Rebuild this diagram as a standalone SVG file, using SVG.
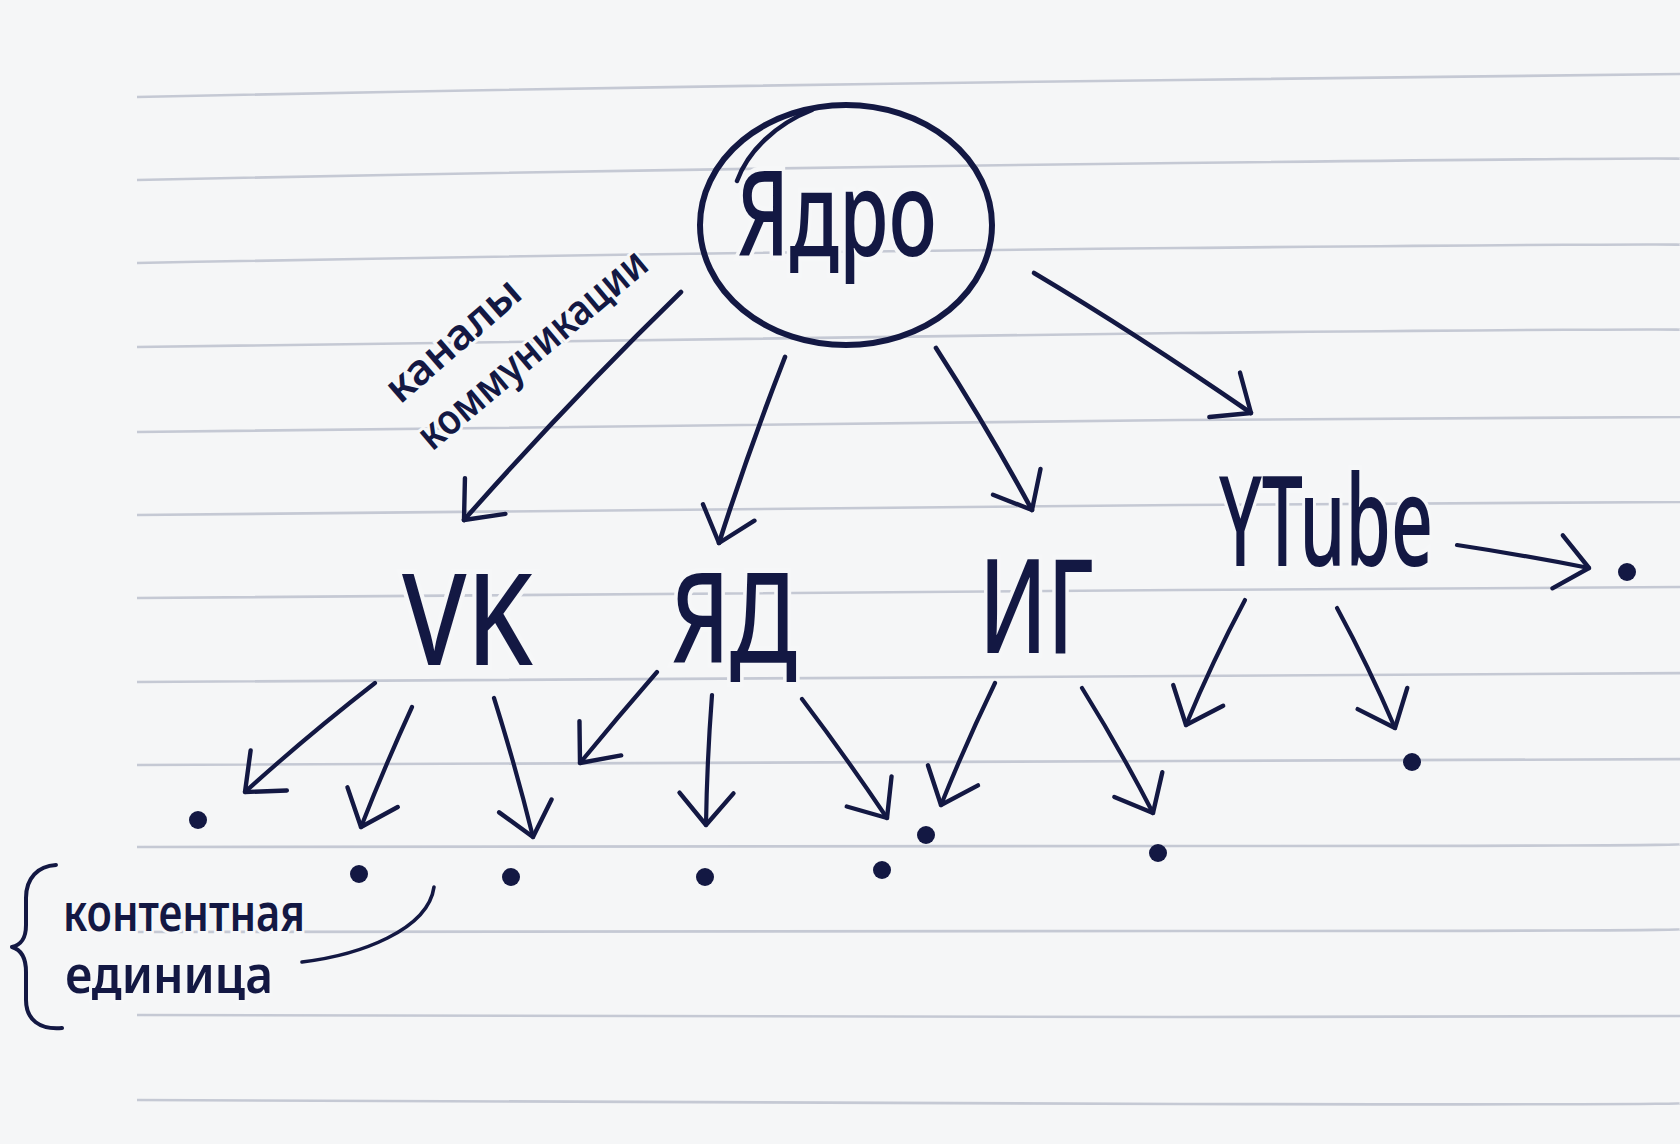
<svg xmlns="http://www.w3.org/2000/svg" width="1680" height="1144" viewBox="0 0 1680 1144">
  <defs>
    <style>
      .rule { fill: none; stroke: #c5c9d4; stroke-width: 2.6; }
      .ink { fill: none; stroke: #131843; stroke-linecap: round; stroke-linejoin: round; }
      .edge { fill: none; stroke: #131843; stroke-width: 4.2; stroke-linecap: round; marker-end: url(#ah); }
      .edge-main { stroke-width: 4.6; }
      .big { font-family: "Noto Sans", "Open Sans", "DejaVu Sans", sans-serif; font-weight: 500; fill: #131843; stroke: #f6f7f8; stroke-width: 10; paint-order: stroke; }
      .small { font-family: "Noto Sans", "Open Sans", "DejaVu Sans", sans-serif; font-weight: 600; fill: #131843; stroke: #f6f7f8; stroke-width: 6; paint-order: stroke; }
      .dot { fill: #131843; }
    </style>
    <marker id="ah" markerUnits="userSpaceOnUse" orient="auto" refX="0" refY="0" markerWidth="60" markerHeight="70" viewBox="-44 -35 50 70" overflow="visible">
      <path d="M -32,-27 L 0,0 L -32,27" fill="none" stroke="#131843" stroke-width="4.4" stroke-linecap="round" stroke-linejoin="round"/>
    </marker>
  </defs>

  <rect width="1680" height="1144" fill="#f5f6f7"/>

  <g id="paper-rules">
    <path class="rule" d="M137,97 Q660,86 1180,80 T1680,74"/>
    <path class="rule" d="M137,180 Q660,169 1180,163 T1680,159"/>
    <path class="rule" d="M137,263 Q660,253 1180,248 T1680,245"/>
    <path class="rule" d="M137,347 Q660,338 1180,333 T1680,330"/>
    <path class="rule" d="M137,432 Q660,424 1180,420 T1680,417"/>
    <path class="rule" d="M137,515 Q660,509 1180,505 T1680,502"/>
    <path class="rule" d="M137,598 Q660,593 1180,590 T1680,587"/>
    <path class="rule" d="M137,682 Q660,678 1180,676 T1680,673"/>
    <path class="rule" d="M137,765 Q660,762 1180,761 T1680,759"/>
    <path class="rule" d="M137,847 Q660,846 1180,846 T1680,844"/>
    <path class="rule" d="M137,932 Q660,931 1180,931 T1680,929"/>
    <path class="rule" d="M137,1015 Q660,1017 1180,1017 T1680,1016"/>
    <path class="rule" d="M137,1100 Q660,1103 1180,1104 T1680,1103"/>
  </g>

  <g id="connectors">
    <path class="edge edge-main" d="M681,292 Q570,400 464,520"/>
    <path class="edge edge-main" d="M785,357 Q748,452 719,543"/>
    <path class="edge edge-main" d="M936,348 Q987,427 1032,510"/>
    <path class="edge edge-main" d="M1034,273 Q1135,333 1251,413"/>

    <path class="edge" d="M375,683 Q308,735 245,792"/>
    <path class="edge" d="M412,707 Q384,768 361,827"/>
    <path class="edge" d="M494,698 Q516,768 533,837"/>

    <path class="edge" d="M657,672 Q617,718 580,763"/>
    <path class="edge" d="M712,695 Q707,760 706,825"/>
    <path class="edge" d="M802,699 Q846,757 887,818"/>

    <path class="edge" d="M995,683 Q966,743 941,805"/>
    <path class="edge" d="M1082,688 Q1120,749 1153,813"/>

    <path class="edge" d="M1245,600 Q1212,662 1186,725"/>
    <path class="edge" d="M1337,608 Q1369,667 1395,728"/>
    <path class="edge" d="M1457,545 Q1523,555 1589,568"/>

    <path class="ink" stroke-width="3.6" d="M302,962 C360,955 428,930 434,887"/>
  </g>

  <g id="node-core">
    <ellipse class="ink" stroke-width="6" cx="846" cy="225" rx="146" ry="120"/>
    <path class="ink" stroke-width="4.5" d="M737,181 C748,151 776,124 812,110"/>
    <text class="big" font-size="118" x="737" y="256" textLength="200" lengthAdjust="spacingAndGlyphs">Ядро</text>
  </g>

  <g id="label-channels">
    <text class="small" font-size="42" transform="translate(400,405) rotate(-41)" textLength="165" lengthAdjust="spacingAndGlyphs">каналы</text>
    <text class="small" font-size="42" transform="translate(432,452) rotate(-40)" textLength="286" lengthAdjust="spacingAndGlyphs">коммуникации</text>
  </g>

  <g id="node-vk">
    <text class="big" font-size="128" x="402" y="665" textLength="131" lengthAdjust="spacingAndGlyphs">VK</text>
  </g>
  <g id="node-yad">
    <text class="big" font-size="126" x="671" y="663" textLength="126" lengthAdjust="spacingAndGlyphs">ЯД</text>
  </g>
  <g id="node-ig">
    <text class="big" font-size="130" x="979" y="653" textLength="115" lengthAdjust="spacingAndGlyphs">ИГ</text>
  </g>
  <g id="node-ytube">
    <text class="big" font-size="126" x="1219" y="566" textLength="214" lengthAdjust="spacingAndGlyphs">YTube</text>
  </g>

  <g id="content-units">
    <circle class="dot" cx="198" cy="820" r="9"/>
    <circle class="dot" cx="359" cy="874" r="9"/>
    <circle class="dot" cx="511" cy="877" r="9"/>
    <circle class="dot" cx="705" cy="877" r="9"/>
    <circle class="dot" cx="882" cy="870" r="9"/>
    <circle class="dot" cx="926" cy="835" r="9"/>
    <circle class="dot" cx="1158" cy="853" r="9"/>
    <circle class="dot" cx="1412" cy="762" r="9"/>
    <circle class="dot" cx="1627" cy="572" r="9"/>
  </g>

  <g id="label-content-unit">
    <path class="ink" stroke-width="4" d="M56,865 C38,866 26,878 26,898 L26,925 C26,940 20,945 12,947 C22,950 26,958 26,972 L26,1000 C26,1020 40,1030 62,1028"/>
    <text class="small" font-size="50" x="63" y="931" textLength="242" lengthAdjust="spacingAndGlyphs">контентная</text>
    <text class="small" font-size="50" x="65" y="993" textLength="208" lengthAdjust="spacingAndGlyphs">единица</text>
  </g>
</svg>
